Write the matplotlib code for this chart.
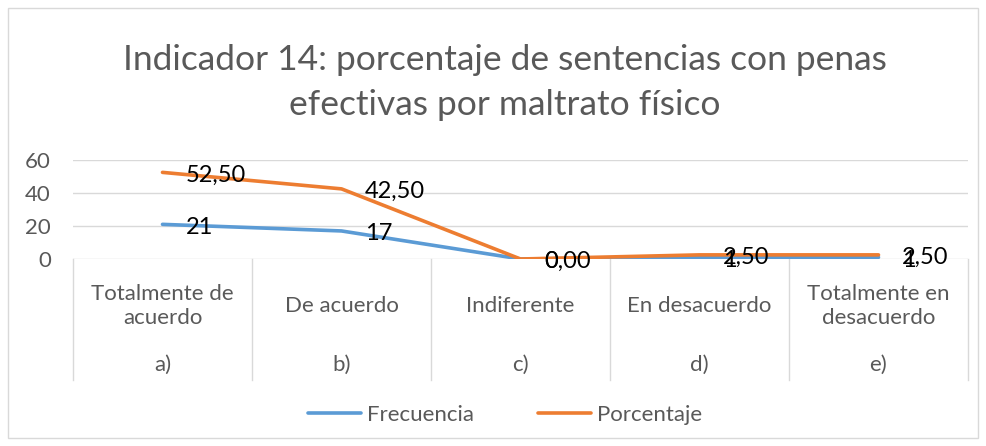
import matplotlib
matplotlib.use("Agg")
import matplotlib.pyplot as plt
from matplotlib.lines import Line2D
from matplotlib.patches import Rectangle
import matplotlib.transforms as mtransforms

categories = ["Totalmente de\nacuerdo", "De acuerdo", "Indiferente", "En desacuerdo", "Totalmente en\ndesacuerdo"]
letters = ["a)", "b)", "c)", "d)", "e)"]
frecuencia = [21, 17, 0, 1, 1]
porcentaje = [52.50, 42.50, 0.00, 2.50, 2.50]
yticks = [0, 20, 40, 60]

plt.rcParams['font.family'] = ['Lato', 'DejaVu Sans']
gray = "#595959"

fig = plt.figure(figsize=(9.86, 4.46), dpi=100)
fig.patches.append(Rectangle((8/986, 8/446), 970/986, 430/446, transform=fig.transFigure,
                             fill=False, edgecolor="#D9D9D9", lw=1))
ax = fig.add_axes([73/986, 1-259/446, (968-73)/986, 99/446])

x = list(range(len(categories)))
ax.plot(x, frecuencia, color="#5B9BD5", lw=2.6, solid_capstyle='round', label="Frecuencia", zorder=3)
ax.plot(x, porcentaje, color="#ED7D31", lw=2.6, solid_capstyle='round', label="Porcentaje", zorder=4)

for xi, v in zip(x, frecuencia):
    ax.annotate(f"{v}", (xi, v), xytext=(17, -2), textcoords="offset points",
                ha="left", va="center", fontsize=17, color="black", zorder=5)
for xi, v in zip(x, porcentaje):
    ax.annotate(f"{v:.2f}".replace(".", ","), (xi, v), xytext=(17, -2), textcoords="offset points",
                ha="left", va="center", fontsize=17, color="black", zorder=5)

ax.set_xlim(-0.5, len(categories) - 0.5)
ax.set_ylim(0, 60)
ax.set_yticks(yticks)
ax.set_yticklabels([str(t) for t in yticks], fontsize=16, color=gray)
ax.tick_params(axis='y', length=0, pad=16)
ax.set_xticks([])
ax.grid(axis='y', color="#D9D9D9", lw=1)
ax.set_axisbelow(True)
for s in ax.spines.values():
    s.set_visible(False)

trans = mtransforms.blended_transform_factory(ax.transData, ax.transAxes)
for b in [i - 0.5 for i in range(len(categories) + 1)]:
    ax.add_line(Line2D([b, b], [0, -1.22], transform=trans, color="#D9D9D9", lw=1, clip_on=False))
for xi, c, l in zip(x, categories, letters):
    ax.text(xi, -0.475, c, transform=trans, ha="center", va="center", fontsize=16,
            color=gray, linespacing=1.3)
    ax.text(xi, -1.07, l, transform=trans, ha="center", va="center", fontsize=16, color=gray)

fig.text(0.512, 1-60/446, "Indicador 14: porcentaje de sentencias con penas", ha="center", va="center",
         fontsize=25.5, color=gray)
fig.text(0.512, 1-105/446, "efectivas por maltrato físico", ha="center", va="center",
         fontsize=25.5, color=gray)

leg = fig.legend(loc="center", bbox_to_anchor=(0.512, 1-415/446), ncol=2, frameon=False,
                 fontsize=16, handlelength=2.4, columnspacing=2.9, handletextpad=0.25)
for t in leg.get_texts():
    t.set_color(gray)

fig.savefig("out.png", dpi=100)
